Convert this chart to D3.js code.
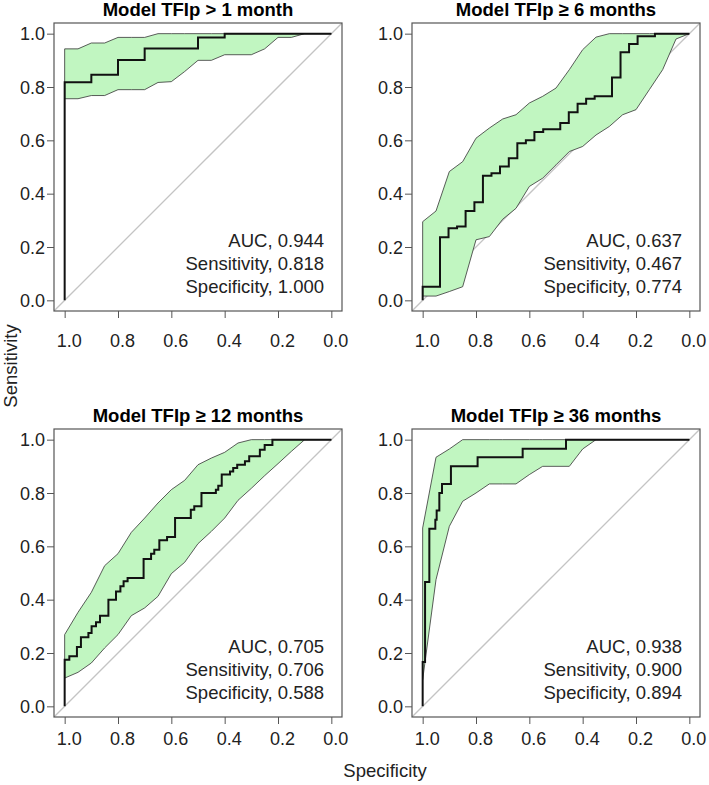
<!DOCTYPE html>
<html>
<head>
<meta charset="utf-8">
<script src="https://cdn.jsdelivr.net/npm/d3@7"></script>
<style>
  body { margin: 0; background: #fff; }
  text { font-family: "Liberation Sans", Arial, sans-serif; }
</style>
</head>
<body>
<div id="chart"></div>
<script>
// specificity grid used for the confidence bands
const specGrid = [1.00, 0.95, 0.90, 0.85, 0.80, 0.75, 0.70, 0.65, 0.60, 0.55, 0.50,
  0.45, 0.40, 0.35, 0.30, 0.25, 0.20, 0.15, 0.10, 0.05, 0.00];

const titles = ["Model TFIp > 1 month", "Model TFIp \u2265 6 months",
  "Model TFIp \u2265 12 months", "Model TFIp \u2265 36 months"];
const aucValues = ["0.944", "0.637", "0.705", "0.938"];
const sensValues = ["0.818", "0.467", "0.706", "0.900"];
const specValues = ["1.000", "0.774", "0.588", "0.894"];
const tickValues = [0, 0.2, 0.4, 0.6, 0.8, 1.0];

// ROC curves (specificity, sensitivity at each step corner)
const rocSpec1 = [1, 1, 0.9, 0.8, 0.7, 0.5, 0.4, 0];
const rocSens1 = [0, 0.818, 0.846, 0.901, 0.944, 0.986, 1, 1];
const upper1 = [0.943, 0.943, 0.965, 0.965, 0.986, 0.986, 0.986, 1, 1, 1, 1, 1, 1, 1, 1, 1, 1, 1, 1, 1, 1];
const lower1 = [0.756, 0.756, 0.768, 0.768, 0.79, 0.79, 0.79, 0.817, 0.82, 0.858, 0.9, 0.9, 0.921, 0.921, 0.921, 0.943, 0.986, 0.986, 1, 1, 1];

const rocSpec2 = [1, 1, 0.935, 0.903, 0.871, 0.839, 0.806, 0.774, 0.742, 0.71, 0.677, 0.645, 0.613,
  0.581, 0.548, 0.484, 0.452, 0.419, 0.387, 0.355, 0.29, 0.258, 0.226, 0.194, 0.129, 0];
const rocSens2 = [0, 0.051, 0.237, 0.27, 0.277, 0.335, 0.368, 0.467, 0.477, 0.502, 0.533, 0.589, 0.6,
  0.631, 0.642, 0.665, 0.705, 0.737, 0.756, 0.765, 0.836, 0.93, 0.961, 0.99, 1, 1];
const upper2 = [0.295, 0.335, 0.483, 0.52, 0.608, 0.646, 0.68, 0.696, 0.74, 0.765, 0.796, 0.865, 0.94, 0.987, 1, 1, 1, 1, 1, 1, 1];
const lower2 = [0.016, 0.016, 0.033, 0.051, 0.227, 0.239, 0.304, 0.345, 0.427, 0.458, 0.508, 0.558, 0.577, 0.62, 0.652, 0.696, 0.715, 0.79, 0.865, 0.98, 1];

const rocSpec3 = [1, 1, 0.9825, 0.954, 0.939, 0.911, 0.899, 0.8825, 0.8675, 0.836, 0.8075, 0.791, 0.779,
  0.764, 0.704, 0.676, 0.664, 0.645, 0.616, 0.586, 0.527, 0.514, 0.487, 0.433, 0.424, 0.411, 0.38,
  0.368, 0.353, 0.324, 0.308, 0.268, 0.25, 0.221, 0];
const rocSens3 = [0, 0.175, 0.1875, 0.2225, 0.259, 0.275, 0.3, 0.315, 0.34, 0.4, 0.431, 0.45, 0.469,
  0.481, 0.5525, 0.5725, 0.5875, 0.6225, 0.635, 0.706, 0.7375, 0.75, 0.8, 0.8125, 0.8275, 0.869, 0.881,
  0.894, 0.906, 0.919, 0.9375, 0.9625, 0.98, 1, 1];
const upper3 = [0.269, 0.3525, 0.4275, 0.5275, 0.5725, 0.6525, 0.706, 0.7625, 0.8125, 0.8475, 0.906, 0.931, 0.9525, 0.9875, 1, 1, 1, 1, 1, 1, 1];
const lower3 = [0.106, 0.1275, 0.1625, 0.219, 0.269, 0.34, 0.369, 0.4125, 0.4975, 0.54, 0.61, 0.656, 0.706, 0.7725, 0.8175, 0.865, 0.91, 0.956, 1, 1, 1];

const rocSpec4 = [1, 1, 0.991, 0.975, 0.9525, 0.9475, 0.9375, 0.9275, 0.894, 0.794, 0.625, 0.4625, 0];
const rocSens4 = [0, 0.166, 0.466, 0.666, 0.7, 0.734, 0.8, 0.834, 0.9, 0.934, 0.966, 1, 1];
const upper4 = [0.669, 0.934, 0.965, 1, 1, 1, 1, 1, 1, 1, 1, 1, 1, 1, 1, 1, 1, 1, 1, 1, 1];
const lower4 = [0.1, 0.475, 0.675, 0.769, 0.8, 0.834, 0.834, 0.834, 0.869, 0.9, 0.9, 0.9, 0.965, 1, 1, 1, 1, 1, 1, 1, 1];

const width = 709, height = 785;
const boxSize = 288;
const bandFill = "#c1f6c1";
const frameColor = "#555";

const panels = [
  { left: 54, top: 23, spec: rocSpec1, sens: rocSens1, upper: upper1, lower: lower1, xLabelY: 324 },
  { left: 412, top: 23, spec: rocSpec2, sens: rocSens2, upper: upper2, lower: lower2, xLabelY: 324 },
  { left: 54, top: 429, spec: rocSpec3, sens: rocSens3, upper: upper3, lower: lower3, xLabelY: 316 },
  { left: 412, top: 429, spec: rocSpec4, sens: rocSens4, upper: upper4, lower: lower4, xLabelY: 316 },
];

const svg = d3
  .select("#chart")
  .append("svg")
  .attr("width", width)
  .attr("height", height)
  .style("background-color", "#fff");

panels.forEach((p, i) => {
  const x = d3.scaleLinear().domain([1.04, -0.04]).range([p.left, p.left + boxSize]);
  const y = d3.scaleLinear().domain([-0.04, 1.04]).range([p.top + boxSize, p.top]);
  const g = svg.append("g");

  g.append("clipPath")
    .attr("id", `clip-${i}`)
    .append("rect")
    .attr("x", p.left)
    .attr("y", p.top)
    .attr("width", boxSize)
    .attr("height", boxSize);

  // chance diagonal
  g.append("line")
    .attr("clip-path", `url(#clip-${i})`)
    .attr("x1", x(1.04))
    .attr("y1", y(-0.04))
    .attr("x2", x(-0.04))
    .attr("y2", y(1.04))
    .attr("stroke", "#c4c4c4")
    .attr("stroke-width", 1.3);

  // confidence band
  const bandPts = specGrid
    .map((s, k) => [x(s), y(p.upper[k])])
    .concat(specGrid.map((s, k) => [x(s), y(p.lower[k])]).reverse());
  g.append("path")
    .attr("d", d3.line()(bandPts) + "Z")
    .attr("fill", bandFill)
    .attr("stroke", "#333")
    .attr("stroke-width", 0.8);

  // ROC curve
  const rocPts = p.spec.map((s, k) => [x(s), y(p.sens[k])]);
  g.append("path")
    .attr("d", d3.line().curve(d3.curveStepAfter)(rocPts))
    .attr("fill", "none")
    .attr("stroke", "#111")
    .attr("stroke-width", 2);

  // frame
  g.append("rect")
    .attr("x", p.left)
    .attr("y", p.top)
    .attr("width", boxSize)
    .attr("height", boxSize)
    .attr("fill", "none")
    .attr("stroke", frameColor)
    .attr("stroke-width", 1.2);

  // y axis
  g.append("g")
    .attr("transform", `translate(${p.left},0)`)
    .call(d3.axisLeft(y).tickValues(tickValues).tickSize(7).tickFormat(d3.format(".1f")))
    .call((a) => a.select(".domain").remove())
    .call((a) => a.selectAll("line").attr("stroke", frameColor))
    .call((a) =>
      a.selectAll("text")
        .attr("x", -9)
        .attr("dy", "0.35em")
        .attr("fill", "#222")
        .style("font-size", "18px")
        .style("font-family", "'Liberation Sans', Arial, sans-serif")
    );

  // x axis
  g.append("g")
    .attr("transform", `translate(0,${p.top + boxSize})`)
    .call(d3.axisBottom(x).tickValues(tickValues.slice().reverse()).tickSize(7).tickFormat(d3.format(".1f")))
    .call((a) => a.select(".domain").remove())
    .call((a) => a.selectAll("line").attr("stroke", frameColor))
    .call((a) =>
      a.selectAll("text")
        .attr("y", p.xLabelY - boxSize)
        .attr("dy", 0)
        .attr("dx", 4)
        .attr("fill", "#222")
        .style("font-size", "18px")
        .style("font-family", "'Liberation Sans', Arial, sans-serif")
    );

  // title
  g.append("text")
    .attr("x", p.left + boxSize / 2)
    .attr("y", p.top - 7)
    .attr("text-anchor", "middle")
    .style("font-size", "18.5px")
    .style("font-weight", "bold")
    .attr("fill", "#000")
    .text(titles[i]);

  // stats
  const stats = [`AUC, ${aucValues[i]}`, `Sensitivity, ${sensValues[i]}`, `Specificity, ${specValues[i]}`];
  stats.forEach((t, k) => {
    g.append("text")
      .attr("x", p.left + 270)
      .attr("y", p.top + 224 + k * 23)
      .attr("text-anchor", "end")
      .attr("fill", "#222")
      .style("font-size", "18.5px")
      .text(t);
  });
});

// outer axis labels
svg.append("text")
  .attr("transform", "translate(17,366) rotate(-90)")
  .attr("text-anchor", "middle")
  .attr("fill", "#222")
  .style("font-size", "18.5px")
  .text("Sensitivity");

svg.append("text")
  .attr("x", 385)
  .attr("y", 777)
  .attr("text-anchor", "middle")
  .attr("fill", "#222")
  .style("font-size", "18.5px")
  .text("Specificity");
</script>
</body>
</html>
